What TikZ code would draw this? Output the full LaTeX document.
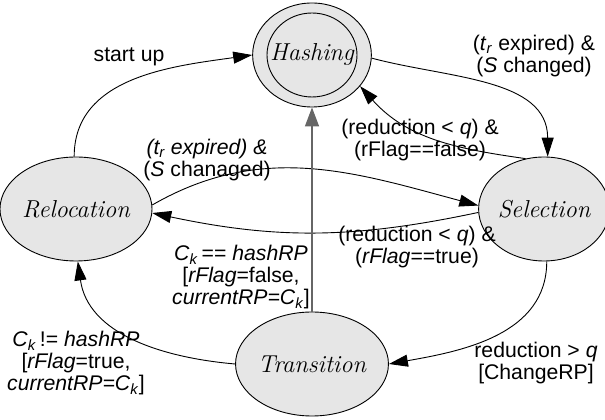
\documentclass[tikz,border=0pt]{standalone}
\usepackage{fontspec}
\setsansfont{Liberation Sans}
\usetikzlibrary{shapes.geometric,arrows.meta}
\definecolor{stfill}{HTML}{E6E6E6}
\definecolor{vgray}{HTML}{666666}
\begin{document}
\begin{tikzpicture}[x=1pt,y=1pt,
  state/.style={ellipse,draw,line width=0.9pt,fill=stfill,minimum width=118pt,minimum height=104pt,inner sep=0pt,font=\fontsize{24.5}{26}\selectfont\itshape},
  innerring/.style={ellipse,draw,line width=0.9pt,minimum width=90pt,minimum height=84pt,inner sep=0pt},
  edge/.style={line width=0.9pt,-{Triangle[length=19pt,width=12pt]}},
  vedge/.style={line width=1.5pt,draw=vgray,-{Triangle[length=19pt,width=14pt,fill=vgray]}},
  lbl/.style={font=\sffamily\fontsize{21.2}{22}\selectfont,align=center,inner sep=0pt}]
\useasboundingbox (0,0) rectangle (605,420);
% states
\node[state] (H) at (312,365) {Hashing};
\node[innerring] (Hi) at (H.center) {};
\node[state] (R) at (76,211) {Relocation};
\node[state] (S) at (544,211) {Selection};
\node[state] (T) at (312,56) {Transition};
% transitions
\draw[edge] (R.92) to[out=90,in=188] (H.180);
\draw[edge] (H.-3) to[out=-15,in=90] (S.86);
\draw[edge] (S.110) to[out=172,in=-48] (H.-33);
\draw[edge] (R.3) to[out=30,in=165] (S.177);
\draw[edge] (S.183) to[out=192,in=-12] (R.-3);
\draw[edge] (T.180) to[out=175,in=-82] (R.-88);
\draw[edge] (S.-87) to[out=-90,in=10] (T.0);
\draw[vedge] (T.north) -- (H.south);
% labels
\node[lbl] (l1) at (129,363) {start up};
\node[lbl] (l2) at (534,364) {(\textit{t}\textsubscript{\textit{r}} expired) \&\\(\textit{S} changed)};
\node[lbl] (l3) at (420,280) {(reduction < \textit{q}) \&\\(rFlag==false)};
\node[lbl] (l4) at (207,260) {\textit{(t\textsubscript{r} expired) \&}\\(\textit{S} chanaged)};
\node[lbl] (l5) at (417,173) {(reduction < \textit{q}) \&\\(\textit{rFlag}==true)};
\node[lbl] (l6) at (76,57) {\textit{C}\textsubscript{\textit{k}}\,!= \textit{hashRP}\\{[}\textit{rFlag}=true,\\\textit{currentRP=C}\textsubscript{\textit{k}}]};
\node[lbl] (l7) at (241,143) {\textit{C}\textsubscript{\textit{k}}\,== \textit{hashRP}\\{[}\textit{rFlag}=false,\\\textit{currentRP=C}\textsubscript{\textit{k}}]};
\node[lbl] (l8) at (536,57) {reduction > \textit{q}\\{[}ChangeRP]};
\end{tikzpicture}
\end{document}
